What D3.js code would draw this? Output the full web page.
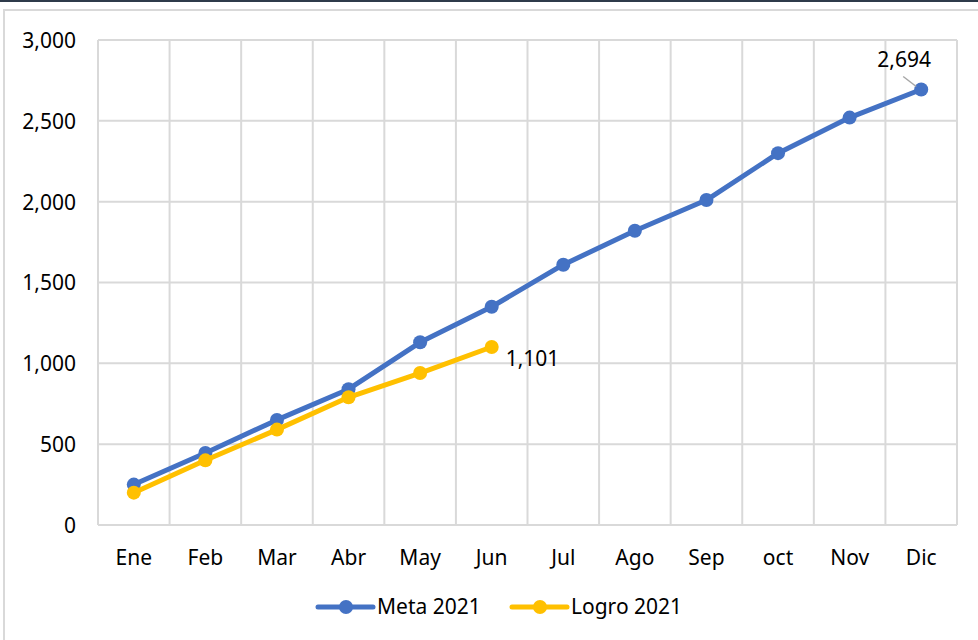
<!DOCTYPE html>
<html>
<head>
<meta charset="utf-8">
<script src="https://cdn.jsdelivr.net/npm/d3@7"></script>
<style>
  body { margin: 0; background: #fff; }
  svg text { font-family: "Noto Sans", "Open Sans", sans-serif; fill: #000; }
</style>
</head>
<body>
<div id="chart"></div>
<script>
// datos de la grafica
const meses = ["Ene", "Feb", "Mar", "Abr", "May", "Jun", "Jul", "Ago", "Sep", "oct", "Nov", "Dic"];
const meta2021 = [250, 445, 650, 840, 1130, 1350, 1610, 1820, 2010, 2300, 2520, 2694];
const logro2021 = [200, 400, 590, 790, 940, 1101];
const yTicks = [0, 500, 1000, 1500, 2000, 2500, 3000];

const Width = 978, Height = 640;
const margin = { left: 98, right: 21, top: 40, bottom: 115 };
const azul = "#4472C4", amarillo = "#FFC000", rejilla = "#d9d9d9";

const svg = d3.select("#chart").append("svg")
    .attr("width", Width).attr("height", Height);

// marco
svg.append("rect").attr("x", 0).attr("y", 0).attr("width", Width).attr("height", 2).attr("fill", "#2e3b4a");
svg.append("rect").attr("x", 4).attr("y", 10).attr("width", Width + 10).attr("height", Height)
    .attr("fill", "none").attr("stroke", rejilla).attr("stroke-width", 2);

const xScale = d3.scaleBand().domain(meses)
    .range([margin.left, Width - margin.right]);
const yScale = d3.scaleLinear().domain([0, 3000])
    .range([Height - margin.bottom, margin.top]);
const cx = d => xScale(d) + xScale.bandwidth() / 2;

// rejilla horizontal
svg.append("g").selectAll("line").data(yTicks).enter().append("line")
    .attr("x1", margin.left).attr("x2", Width - margin.right)
    .attr("y1", d => yScale(d)).attr("y2", d => yScale(d))
    .attr("stroke", rejilla).attr("stroke-width", 2);
// rejilla vertical
const bordes = meses.map(m => xScale(m)).concat([Width - margin.right]);
svg.append("g").selectAll("line").data(bordes).enter().append("line")
    .attr("x1", d => d).attr("x2", d => d)
    .attr("y1", margin.top).attr("y2", yScale(0))
    .attr("stroke", rejilla).attr("stroke-width", 2);

// ejes
const yAxis = d3.axisLeft(yScale).tickValues(yTicks).tickFormat(d3.format(",")).tickSize(0).tickPadding(22);
const gy = svg.append("g").attr("transform", "translate(" + margin.left + ",0)").call(yAxis);
gy.select(".domain").remove();
gy.selectAll("text").style("font-size", "21px").attr("dy", "0.35em");

const xAxis = d3.axisBottom(xScale).tickSize(0).tickPadding(25);
const gx = svg.append("g").attr("transform", "translate(0," + yScale(0) + ")").call(xAxis);
gx.select(".domain").remove();
gx.selectAll("text").style("font-size", "21px").attr("dy", "0.71em");

// lineas
const linea = d3.line().x((d, i) => cx(meses[i])).y(d => yScale(d));

function serie(datos, color) {
    svg.append("path").datum(datos)
        .attr("d", linea).attr("fill", "none")
        .attr("stroke", color).attr("stroke-width", 5)
        .attr("stroke-linejoin", "round").attr("stroke-linecap", "round");
    svg.append("g").selectAll("circle").data(datos).enter().append("circle")
        .attr("cx", (d, i) => cx(meses[i])).attr("cy", d => yScale(d))
        .attr("r", 7).attr("fill", color);
}
serie(meta2021, azul);
serie(logro2021, amarillo);

// etiquetas de datos
const fmt = d3.format(",");
const ultMeta = meta2021[meta2021.length - 1];
const xDic = cx(meses[meta2021.length - 1]);
svg.append("line")
    .attr("x1", xDic - 5).attr("y1", yScale(ultMeta) - 3)
    .attr("x2", xDic - 18).attr("y2", yScale(ultMeta) - 13)
    .attr("stroke", "#a6a6a6").attr("stroke-width", 1.5);
svg.append("text").attr("x", xDic - 17).attr("y", yScale(ultMeta) - 22)
    .attr("text-anchor", "middle").style("font-size", "21px").text(fmt(ultMeta));

const ultLogro = logro2021[logro2021.length - 1];
svg.append("text").attr("x", cx(meses[logro2021.length - 1]) + 14).attr("y", yScale(ultLogro) + 19)
    .style("font-size", "21px").text(fmt(ultLogro));

// leyenda
const leyenda = [
    { nombre: "Meta 2021", color: azul, x: 318 },
    { nombre: "Logro 2021", color: amarillo, x: 512 }
];
const ly = 607;
const gl = svg.append("g").selectAll("g").data(leyenda).enter().append("g");
gl.append("line")
    .attr("x1", d => d.x).attr("x2", d => d.x + 55)
    .attr("y1", ly).attr("y2", ly)
    .attr("stroke", d => d.color).attr("stroke-width", 5).attr("stroke-linecap", "round");
gl.append("circle").attr("cx", d => d.x + 28).attr("cy", ly).attr("r", 7).attr("fill", d => d.color);
gl.append("text").attr("x", d => d.x + 59).attr("y", ly).attr("dy", "0.35em")
    .style("font-size", "21px").text(d => d.nombre);
</script>
</body>
</html>
